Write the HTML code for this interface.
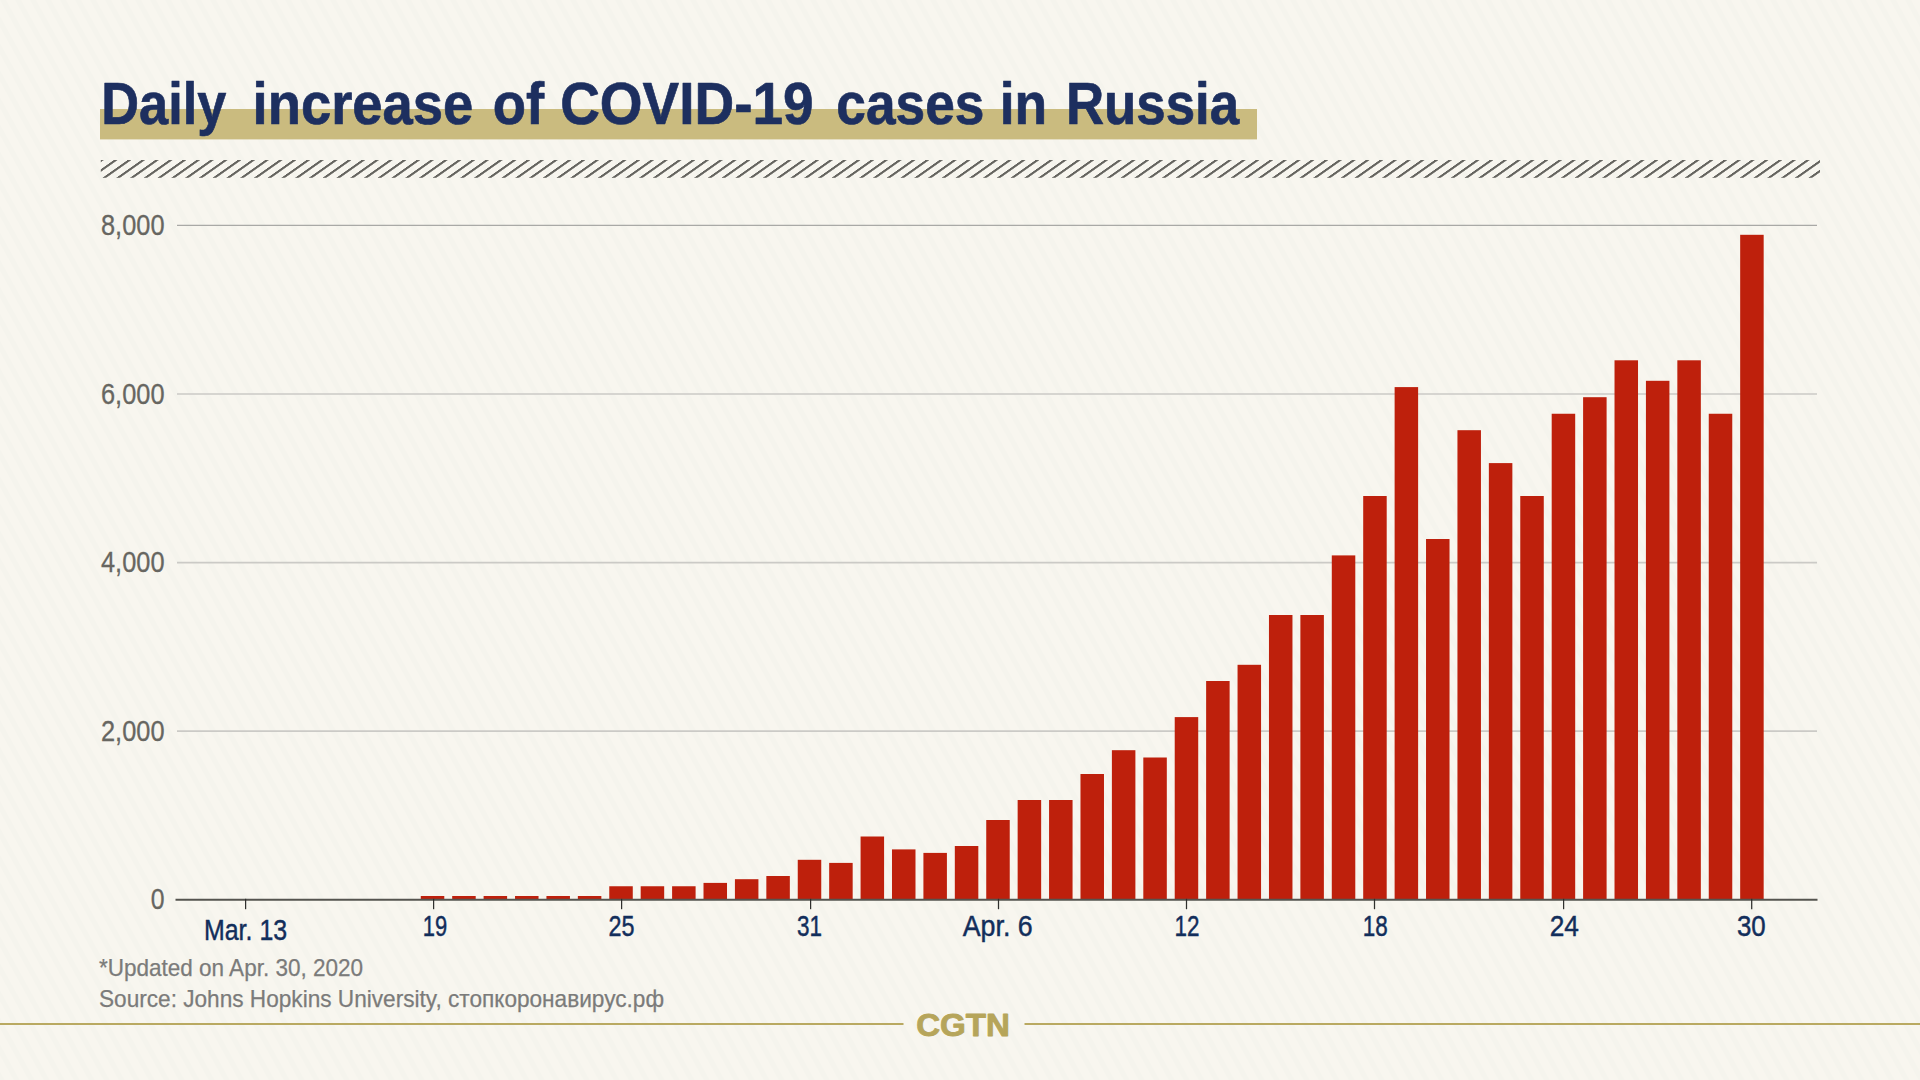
<!DOCTYPE html>
<html lang="en">
<head>
<meta charset="utf-8">
<title>Daily increase of COVID-19 cases in Russia</title>
<style>
html,body{margin:0;padding:0;background:#f8f6ef;}
body{width:1920px;height:1080px;overflow:hidden;position:relative;font-family:"Liberation Sans",sans-serif;}
svg{position:absolute;left:0;top:0;display:block;}
svg text{font-family:"Liberation Sans",sans-serif;}
.title{font-weight:bold;font-size:59.4px;fill:#1d2f5f;stroke:#1d2f5f;stroke-width:0.7px;stroke-linejoin:round;}
.yl text{font-size:28.8px;fill:#676661;stroke:#676661;stroke-width:0.3px;}
.xl text{font-size:29.2px;fill:#122e5b;stroke:#122e5b;stroke-width:0.45px;}
.ft text{font-size:23.6px;fill:#7b7b7a;stroke:#7b7b7a;stroke-width:0.25px;}
.logo{font-weight:bold;font-size:32.2px;fill:#b6a55a;stroke:#b6a55a;stroke-width:0.9px;stroke-linejoin:round;}
</style>
</head>
<body>
<svg width="1920" height="1080" viewBox="0 0 1920 1080">
<defs>
<pattern id="bgp" patternUnits="userSpaceOnUse" width="15" height="40" patternTransform="skewX(29)">
<rect x="0" y="0" width="15" height="40" fill="#f8f6ef"/>
<rect x="0" y="0" width="6" height="40" fill="#f5f4ed"/>
</pattern>
<pattern id="hatch" patternUnits="userSpaceOnUse" x="10.55" y="0" width="13.758" height="40" patternTransform="skewX(-54.8)">
<rect x="0" y="0" width="3.7" height="40" fill="#65645f"/>
</pattern>
</defs>
<rect x="0" y="0" width="1920" height="1080" fill="url(#bgp)"/>

<!-- title -->
<rect x="100" y="109" width="1157" height="30.4" fill="#cabb7f"/>
<text class="title" y="123.75"><tspan x="101.30" textLength="125.10" lengthAdjust="spacingAndGlyphs">Daily</tspan> <tspan x="252.60" textLength="220.70" lengthAdjust="spacingAndGlyphs">increase</tspan> <tspan x="492.70" textLength="51.40" lengthAdjust="spacingAndGlyphs">of</tspan> <tspan x="560.20" textLength="253.45" lengthAdjust="spacingAndGlyphs">COVID-19</tspan> <tspan x="836.35" textLength="148.05" lengthAdjust="spacingAndGlyphs">cases</tspan> <tspan x="999.80" textLength="47.40" lengthAdjust="spacingAndGlyphs">in</tspan> <tspan x="1065.90" textLength="173.30" lengthAdjust="spacingAndGlyphs">Russia</tspan></text>

<!-- hatched strip -->
<rect x="100.8" y="160" width="1719.2" height="17.8" fill="url(#hatch)"/>

<!-- grid -->
<line x1="177" x2="1817" y1="225.4" y2="225.4" stroke="#a9a9a6" stroke-width="1.2"/>
<line x1="177" x2="1817" y1="394.0" y2="394.0" stroke="#cbcac6" stroke-width="1.7"/>
<line x1="177" x2="1817" y1="562.6" y2="562.6" stroke="#cbcac6" stroke-width="1.7"/>
<line x1="177" x2="1817" y1="731.2" y2="731.2" stroke="#cbcac6" stroke-width="1.7"/>

<!-- bars -->
<g fill="#be200c">
<rect x="420.78" y="896.00" width="23.5" height="3.80"/>
<rect x="452.20" y="896.00" width="23.5" height="3.80"/>
<rect x="483.61" y="896.00" width="23.5" height="3.80"/>
<rect x="515.03" y="896.00" width="23.5" height="3.80"/>
<rect x="546.44" y="896.00" width="23.5" height="3.80"/>
<rect x="577.85" y="896.00" width="23.5" height="3.80"/>
<rect x="609.27" y="886.25" width="23.5" height="13.55"/>
<rect x="640.68" y="886.25" width="23.5" height="13.55"/>
<rect x="672.10" y="886.25" width="23.5" height="13.55"/>
<rect x="703.51" y="882.90" width="23.5" height="16.90"/>
<rect x="734.92" y="879.20" width="23.5" height="20.60"/>
<rect x="766.34" y="876.00" width="23.5" height="23.80"/>
<rect x="797.75" y="859.80" width="23.5" height="40.00"/>
<rect x="829.17" y="862.90" width="23.5" height="36.90"/>
<rect x="860.58" y="836.50" width="23.5" height="63.30"/>
<rect x="891.99" y="849.40" width="23.5" height="50.40"/>
<rect x="923.41" y="852.90" width="23.5" height="46.90"/>
<rect x="954.82" y="846.00" width="23.5" height="53.80"/>
<rect x="986.24" y="820.00" width="23.5" height="79.80"/>
<rect x="1017.65" y="800.00" width="23.5" height="99.80"/>
<rect x="1049.06" y="800.00" width="23.5" height="99.80"/>
<rect x="1080.48" y="774.00" width="23.5" height="125.80"/>
<rect x="1111.89" y="750.20" width="23.5" height="149.60"/>
<rect x="1143.31" y="757.50" width="23.5" height="142.30"/>
<rect x="1174.72" y="717.10" width="23.5" height="182.70"/>
<rect x="1206.13" y="681.00" width="23.5" height="218.80"/>
<rect x="1237.55" y="664.80" width="23.5" height="235.00"/>
<rect x="1268.96" y="615.00" width="23.5" height="284.80"/>
<rect x="1300.38" y="615.00" width="23.5" height="284.80"/>
<rect x="1331.79" y="555.40" width="23.5" height="344.40"/>
<rect x="1363.20" y="496.00" width="23.5" height="403.80"/>
<rect x="1394.62" y="387.10" width="23.5" height="512.70"/>
<rect x="1426.03" y="539.00" width="23.5" height="360.80"/>
<rect x="1457.45" y="430.20" width="23.5" height="469.60"/>
<rect x="1488.86" y="463.10" width="23.5" height="436.70"/>
<rect x="1520.27" y="496.00" width="23.5" height="403.80"/>
<rect x="1551.69" y="413.75" width="23.5" height="486.05"/>
<rect x="1583.10" y="397.20" width="23.5" height="502.60"/>
<rect x="1614.52" y="360.30" width="23.5" height="539.50"/>
<rect x="1645.93" y="380.80" width="23.5" height="519.00"/>
<rect x="1677.34" y="360.30" width="23.5" height="539.50"/>
<rect x="1708.76" y="413.75" width="23.5" height="486.05"/>
<rect x="1740.17" y="234.80" width="23.5" height="665.00"/>
</g>

<!-- axis -->
<line x1="175.5" x2="1817.5" y1="899.8" y2="899.8" stroke="#55544f" stroke-width="2"/>
<g stroke="#30302e" stroke-width="1.25">
<line x1="245.6" x2="245.6" y1="898.8" y2="909.2" />
<line x1="433.6" x2="433.6" y1="898.8" y2="909.2" />
<line x1="621.6" x2="621.6" y1="898.8" y2="909.2" />
<line x1="810.6" x2="810.6" y1="898.8" y2="909.2" />
<line x1="998.5" x2="998.5" y1="898.8" y2="909.2" />
<line x1="1186.5" x2="1186.5" y1="898.8" y2="909.2" />
<line x1="1374.5" x2="1374.5" y1="898.8" y2="909.2" />
<line x1="1563.6" x2="1563.6" y1="898.8" y2="909.2" />
<line x1="1751.7" x2="1751.7" y1="898.8" y2="909.2" />
</g>

<g class="yl">
<text x="101" y="235.3" textLength="63.5" lengthAdjust="spacingAndGlyphs">8,000</text>
<text x="101" y="403.7" textLength="63.5" lengthAdjust="spacingAndGlyphs">6,000</text>
<text x="101" y="572.3" textLength="63.5" lengthAdjust="spacingAndGlyphs">4,000</text>
<text x="101" y="740.9" textLength="63.5" lengthAdjust="spacingAndGlyphs">2,000</text>
<text x="150.7" y="908.8" textLength="13.8" lengthAdjust="spacingAndGlyphs">0</text>
</g>
<g class="xl">
<text x="204.00" y="939.8" textLength="83.10" lengthAdjust="spacingAndGlyphs">Mar. 13</text>
<text x="422.70" y="936.2" textLength="24.40" lengthAdjust="spacingAndGlyphs">19</text>
<text x="608.50" y="936.2" textLength="26.00" lengthAdjust="spacingAndGlyphs">25</text>
<text x="797.00" y="936.2" textLength="25.00" lengthAdjust="spacingAndGlyphs">31</text>
<text x="962.75" y="936.2" textLength="70.00" lengthAdjust="spacingAndGlyphs">Apr. 6</text>
<text x="1174.50" y="936.2" textLength="25.00" lengthAdjust="spacingAndGlyphs">12</text>
<text x="1362.75" y="936.2" textLength="25.00" lengthAdjust="spacingAndGlyphs">18</text>
<text x="1549.75" y="936.2" textLength="29.25" lengthAdjust="spacingAndGlyphs">24</text>
<text x="1737.00" y="936.2" textLength="28.75" lengthAdjust="spacingAndGlyphs">30</text>
</g>
<g class="ft">
<text x="99" y="976.3" textLength="264" lengthAdjust="spacingAndGlyphs">*Updated on Apr. 30, 2020</text>
<text x="99" y="1006.5" textLength="565" lengthAdjust="spacingAndGlyphs">Source: Johns Hopkins University, стопкоронавирус.рф</text>
</g>

<!-- footer rule + logo -->
<rect x="0" y="1023" width="903.5" height="2" fill="#b9a961"/>
<rect x="1024.5" y="1023" width="895.5" height="2" fill="#b9a961"/>
<text class="logo" x="916.2" y="1035.6" textLength="93.8" lengthAdjust="spacingAndGlyphs">CGTN</text>
</svg>
</body>
</html>
